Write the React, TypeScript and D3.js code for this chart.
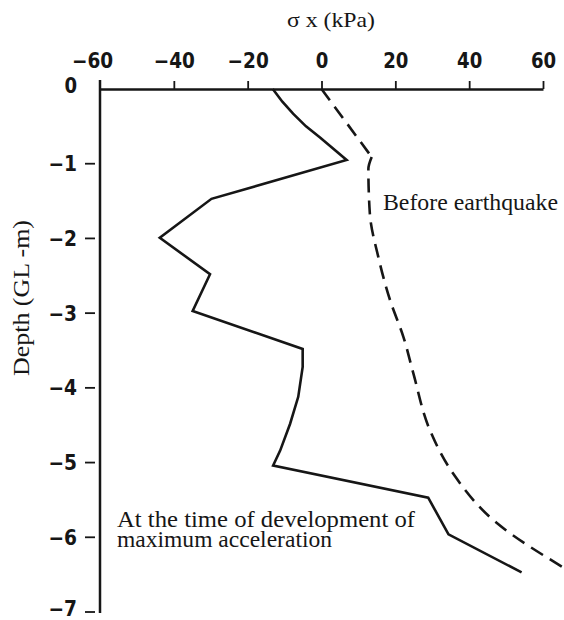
import React, { useEffect, useRef } from "react"
import * as d3 from "d3"

// horizontal stress sigma x (kPa) against depth (GL -m)
const xTicks = [-60, -40, -20, 0, 20, 40, 60]
const yTicks = [0, -1, -2, -3, -4, -5, -6, -7]

// at the time of development of maximum acceleration (solid)
const maxAccStress = [-13.2, -10.6, -7.7, -4.2, -0.4, 6.8, -29.8, -43.8, -30.2, -34.9, -5.1, -5.1, -6.3, -8.5, -11.2, -13.1, 28.9, 34.4, 54.2]
const maxAccDepth = [0, -0.17, -0.33, -0.5, -0.65, -0.95, -1.47, -1.99, -2.48, -2.97, -3.48, -3.72, -4.12, -4.48, -4.84, -5.04, -5.47, -5.96, -6.47]

// before earthquake (dashed)
const beforeStress = [0, 13.6, 12.7, 13.1, 15.4, 18.6, 22.2, 24.9, 29.4, 35.7, 47.5, 65.7]
const beforeDepth = [0, -0.91, -1.07, -1.67, -2.25, -2.83, -3.32, -3.81, -4.57, -5.15, -5.81, -6.41]

const W = 564
const H = 620
const INK = "#161616"
const tickFont = "'DejaVu Sans', sans-serif"
const serif = "'Liberation Serif', 'DejaVu Serif', serif"

// the tick numerals are a narrow bold face: squeeze them to the printed width
const labelWidth = (s: string) =>
    s.replace("−", "").length * 12.6 + (s.indexOf("−") >= 0 ? 16 : 0)

export default function App() {
    const ref = useRef<SVGSVGElement>(null)

    useEffect(() => {
        const svg = d3.select(ref.current)
        svg.selectAll("*").remove()

        const x = d3.scaleLinear().domain([-60, 60]).range([100, 543])
        const y = d3.scaleLinear().domain([0, -7]).range([89, 612])
        const fmt = d3.format("d")

        // top axis
        const xAxis = d3.axisTop(x)
            .tickValues(xTicks)
            .tickSize(8)
            .tickSizeOuter(0)
            .tickPadding(13)
            .tickFormat(d => fmt(d as number))

        const gx = svg.append("g")
            .attr("transform", "translate(0," + y(0) + ")")
            .call(xAxis)
        gx.select(".domain").attr("stroke", INK).attr("stroke-width", 2.5)
        gx.selectAll(".tick line").attr("stroke", INK).attr("stroke-width", 1.8)
        gx.selectAll(".tick")
            .filter(d => d === -60)
            .select("line").remove()
        gx.selectAll<SVGTextElement, number>(".tick text")
            .attr("fill", INK)
            .style("font-family", tickFont)
            .style("font-weight", "bold")
            .style("font-size", "20.5px")
            .attr("textLength", d => labelWidth(fmt(d)))
            .attr("lengthAdjust", "spacingAndGlyphs")
            .attr("dx", d => (d === -60 ? -8 : 0))

        // left axis, drawn by hand since the ticks sit off the line
        svg.append("line")
            .attr("x1", x(-60)).attr("x2", x(-60))
            .attr("y1", y(0) - 9).attr("y2", y(-7) + 1)
            .attr("stroke", INK).attr("stroke-width", 2.5)

        svg.selectAll(".ytick")
            .data(yTicks.filter(d => d < 0))
            .enter()
            .append("line")
            .attr("class", "ytick")
            .attr("x1", x(-60) - 15).attr("x2", x(-60) - 5)
            .attr("y1", d => y(d)).attr("y2", d => y(d))
            .attr("stroke", INK).attr("stroke-width", 1.8)

        svg.selectAll(".ylab")
            .data(yTicks)
            .enter()
            .append("text")
            .attr("class", "ylab")
            .attr("x", x(-60) - 23)
            .attr("y", d => y(d) + (d === 0 ? -3 : d === -7 ? -3 : 0))
            .attr("dy", "0.36em")
            .attr("text-anchor", "end")
            .attr("fill", INK)
            .style("font-family", tickFont)
            .style("font-weight", "bold")
            .style("font-size", "20.5px")
            .attr("textLength", d => labelWidth(fmt(d)))
            .attr("lengthAdjust", "spacingAndGlyphs")
            .text(d => fmt(d))

        // curves
        const solid = d3.line<number>()
            .x((d, i) => x(maxAccStress[i]))
            .y(d => y(d))
        svg.append("path")
            .attr("d", solid(maxAccDepth))
            .attr("fill", "none")
            .attr("stroke", INK)
            .attr("stroke-width", 2.6)
            .attr("stroke-linejoin", "miter")

        const dashedTop = d3.line<number>()
            .x((d, i) => x(beforeStress[i]))
            .y(d => y(d))
        svg.append("path")
            .attr("d", dashedTop(beforeDepth.slice(0, 2)))
            .attr("fill", "none")
            .attr("stroke", INK)
            .attr("stroke-width", 2.6)
            .attr("stroke-dasharray", "14 8")

        const dashedLow = d3.line<number>()
            .x((d, i) => x(beforeStress[i + 1]))
            .y(d => y(d))
            .curve(d3.curveMonotoneY)
        svg.append("path")
            .attr("d", dashedLow(beforeDepth.slice(1)))
            .attr("fill", "none")
            .attr("stroke", INK)
            .attr("stroke-width", 2.6)
            .attr("stroke-dasharray", "14 8")

        // titles
        svg.append("text")
            .attr("x", 331).attr("y", 27)
            .attr("text-anchor", "middle")
            .attr("textLength", 88)
            .attr("lengthAdjust", "spacingAndGlyphs")
            .attr("fill", INK)
            .style("font-family", serif)
            .style("font-size", "21px")
            .text("σ x (kPa)")

        svg.append("text")
            .attr("transform", "translate(29,298) rotate(-90)")
            .attr("text-anchor", "middle")
            .attr("textLength", 156)
            .attr("lengthAdjust", "spacingAndGlyphs")
            .attr("fill", INK)
            .style("font-family", serif)
            .style("font-size", "23px")
            .text("Depth (GL -m)")

        const notes = [
            { t: "Before earthquake", x: 383, y: 210, w: 175 },
            { t: "At the time of development of", x: 117, y: 527, w: 298 },
            { t: "maximum acceleration", x: 117, y: 547, w: 215 }
        ]
        svg.selectAll(".note")
            .data(notes)
            .enter()
            .append("text")
            .attr("class", "note")
            .attr("x", d => d.x).attr("y", d => d.y)
            .attr("textLength", d => d.w)
            .attr("lengthAdjust", "spacingAndGlyphs")
            .attr("fill", INK)
            .style("font-family", serif)
            .style("font-size", "23px")
            .text(d => d.t)
    }, [])

    return (
        <svg
            ref={ref}
            width={W}
            height={H}
            style={{ position: "absolute", left: 0, top: 0, background: "#fff" }}
        />
    )
}
